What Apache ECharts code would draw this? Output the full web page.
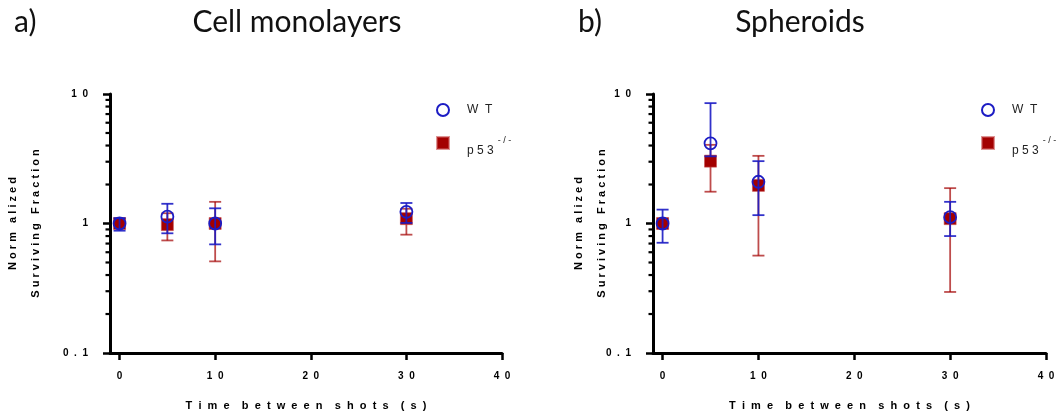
<!DOCTYPE html>
<html><head><meta charset="utf-8">
<script src="https://cdn.jsdelivr.net/npm/echarts@6/dist/echarts.min.js"></script>
<style>html,body{margin:0;padding:0;background:#fff}#c{width:1061px;height:414px}</style>
</head><body><div id="c"></div>
<script>
// ---- data ----
const timePoints = [0, 5, 10, 30];

const monoWT      = [1.00, 1.13, 1.00, 1.23];
const monoWTLow   = [0.88, 0.84, 0.69, 1.01];
const monoWTHigh  = [1.10, 1.42, 1.31, 1.44];
const monoP53     = [1.00, 0.98, 1.00, 1.09];
const monoP53Low  = [0.92, 0.74, 0.51, 0.82];
const monoP53High = [1.08, 1.20, 1.47, 1.30];

const sphWT       = [1.00, 4.16, 2.10, 1.12];
const sphWTLow    = [0.71, 3.30, 1.16, 0.80];
const sphWTHigh   = [1.28, 8.50, 3.03, 1.47];
const sphP53      = [1.00, 3.03, 1.97, 1.09];
const sphP53Low   = [0.92, 1.76, 0.565, 0.296];
const sphP53High  = [1.08, 4.05, 3.33, 1.875];

const xTickValues = [0, 10, 20, 30, 40];
const yMinorTicks = [0.2, 0.3, 0.4, 0.5, 0.6, 0.7, 0.8, 0.9, 2, 3, 4, 5, 6, 7, 8, 9];
const yTickLabels = {'0.1': '0  .  1', '1': '1', '10': '1  0'};
const panelTitles = ['Cell monolayers', 'Spheroids'];
const panelLetters = ['a)', 'b)'];
const xAxisTitle = 'T  i  m  e    b  e  t  w  e  e  n    s  h  o  t  s    (  s  )';
const yAxisTitle = 'N o r m   a l i z e d\nS u r v i v i n g   F r a c t i o n';

// ---- styling ----
const BLUE = '#1c1cc4';
const RED = '#a30000';
const AX = 'Liberation Sans, Arial, sans-serif';

const chart = echarts.init(document.getElementById('c'));

function errSeries(name, gi, xs, lo, hi, color, opacity, z) {
  return {
    type: 'custom', name: name, xAxisIndex: gi, yAxisIndex: gi, z: z,
    data: xs.map((t, i) => [t, lo[i], hi[i]]),
    encode: {x: 0, y: [1, 2]},
    clip: false, silent: true,
    renderItem: function (params, api) {
      const x = api.value(0);
      const a = api.coord([x, api.value(1)]);
      const b = api.coord([x, api.value(2)]);
      const h = 6;
      const st = {stroke: color, lineWidth: 1.8, opacity: opacity};
      return {type: 'group', children: [
        {type: 'line', shape: {x1: a[0], y1: a[1], x2: b[0], y2: b[1]}, style: st},
        {type: 'line', shape: {x1: a[0] - h, y1: a[1], x2: a[0] + h, y2: a[1]}, style: st},
        {type: 'line', shape: {x1: b[0] - h, y1: b[1], x2: b[0] + h, y2: b[1]}, style: st}
      ]};
    }
  };
}

function minorTickSeries(gi) {
  return {
    type: 'custom', xAxisIndex: gi, yAxisIndex: gi, clip: false, silent: true, z: 5,
    data: yMinorTicks.map(v => [0, v]),
    encode: {x: 0, y: 1},
    renderItem: function (params, api) {
      const p = api.coord([api.value(0), api.value(1)]);
      const x0 = params.coordSys.x;
      return {type: 'line', shape: {x1: x0 - 4.5, y1: p[1], x2: x0, y2: p[1]},
        style: {stroke: '#000', lineWidth: 2.2}};
    }
  };
}

const grids = [
  {left: 110, top: 94, width: 392, height: 259, containLabel: false, outerBoundsMode: 'none'},
  {left: 653, top: 94, width: 393, height: 259, containLabel: false, outerBoundsMode: 'none'}
];
const yNameGaps = [63, 40];

const xAxes = grids.map((g, i) => ({
  type: 'value', gridIndex: i, min: -1, max: 40,
  splitLine: {show: false},
  axisLine: {onZero: false, lineStyle: {color: '#000', width: 3}},
  axisTick: {customValues: xTickValues, length: 7, lineStyle: {color: '#000', width: 2.5}},
  axisLabel: {customValues: xTickValues, margin: 18, color: '#000', fontSize: 10, fontWeight: 'bold',
    fontFamily: AX, formatter: v => String(v).split('').join('  ')},
  name: xAxisTitle, nameLocation: 'middle', nameGap: 47, nameMoveOverlap: false,
  nameTextStyle: {color: '#000', fontSize: 11, fontWeight: 'bold', fontFamily: AX}
}));

const yAxes = grids.map((g, i) => ({
  type: 'log', logBase: 10, gridIndex: i, min: 0.1, max: 10,
  splitLine: {show: false},
  axisLine: {show: true, onZero: false, lineStyle: {color: '#000', width: 3}},
  axisTick: {show: true, length: 7, lineStyle: {color: '#000', width: 2.5}},
  minorTick: {show: false},
  axisLabel: {margin: 22, color: '#000', fontSize: 10, fontWeight: 'bold', fontFamily: AX,
    formatter: v => yTickLabels[String(+v.toPrecision(6))] || ''},
  name: yAxisTitle, nameLocation: 'middle', nameRotate: 90, nameGap: yNameGaps[i], nameMoveOverlap: false,
  nameTextStyle: {color: '#000', fontSize: 11, fontWeight: 'bold', fontFamily: AX, lineHeight: 23, align: 'center'}
}));

const panels = [
  {wt: monoWT, wtLo: monoWTLow, wtHi: monoWTHigh, p: monoP53, pLo: monoP53Low, pHi: monoP53High},
  {wt: sphWT, wtLo: sphWTLow, wtHi: sphWTHigh, p: sphP53, pLo: sphP53Low, pHi: sphP53High}
];

const series = [];
panels.forEach((pn, gi) => {
  series.push(minorTickSeries(gi));
  series.push(errSeries('p53err', gi, timePoints, pn.pLo, pn.pHi, RED, 0.7, 10));
  series.push({
    type: 'scatter', name: 'p53', xAxisIndex: gi, yAxisIndex: gi, z: 11,
    data: timePoints.map((t, i) => [t, pn.p[i]]),
    symbol: 'rect', symbolSize: 12,
    itemStyle: {color: RED, borderColor: 'rgba(200,80,80,0.6)', borderWidth: 1, opacity: 1},
    emphasis: {disabled: true}
  });
  series.push(errSeries('wterr', gi, timePoints, pn.wtLo, pn.wtHi, BLUE, 0.9, 12));
  series.push({
    type: 'scatter', name: 'WT', xAxisIndex: gi, yAxisIndex: gi, z: 13,
    data: timePoints.map((t, i) => [t, pn.wt[i]]),
    symbol: 'circle', symbolSize: 12,
    itemStyle: {color: 'rgba(0,0,0,0)', borderColor: BLUE, borderWidth: 1.8, opacity: 1},
    emphasis: {disabled: true}
  });
});

const legendRich = {
  a: {fontSize: 12, fontFamily: AX, color: '#222', padding: [0, 0, 0, 13]},
  p: {fontSize: 12, fontFamily: AX, color: '#222', padding: [16, 0, 0, 13], lineHeight: 14},
  s: {fontSize: 9, fontFamily: AX, color: '#222', verticalAlign: 'top', padding: [0, 0, 0, 4], lineHeight: 10}
};
const legendFmt = n => n === 'WT' ? '{a|W  T}' : '{p|p 5 3}{s|- / -}';
const legends = [431, 976].map(l => ({
  left: l, top: 98, orient: 'vertical', itemWidth: 12, itemHeight: 12, itemGap: 12,
  data: ['WT', 'p53'], selectedMode: false, formatter: legendFmt,
  textStyle: {rich: legendRich}
}));

const titleFont = '30px Lato, "Open Sans", sans-serif';
const graphics = [];
[[14, 297], [578, 800]].forEach((pos, i) => {
  graphics.push({type: 'text', x: pos[0], y: 22,
    style: {text: panelLetters[i], font: titleFont, fill: '#111', textAlign: 'left', textVerticalAlign: 'middle'}});
  graphics.push({type: 'text', x: pos[1], y: 22,
    style: {text: panelTitles[i], font: titleFont, fill: '#111', textAlign: 'center', textVerticalAlign: 'middle'}});
});

chart.setOption({
  animation: false,
  backgroundColor: '#fff',
  grid: grids,
  xAxis: xAxes,
  yAxis: yAxes,
  legend: legends,
  graphic: graphics,
  series: series
});
</script>
</body></html>
